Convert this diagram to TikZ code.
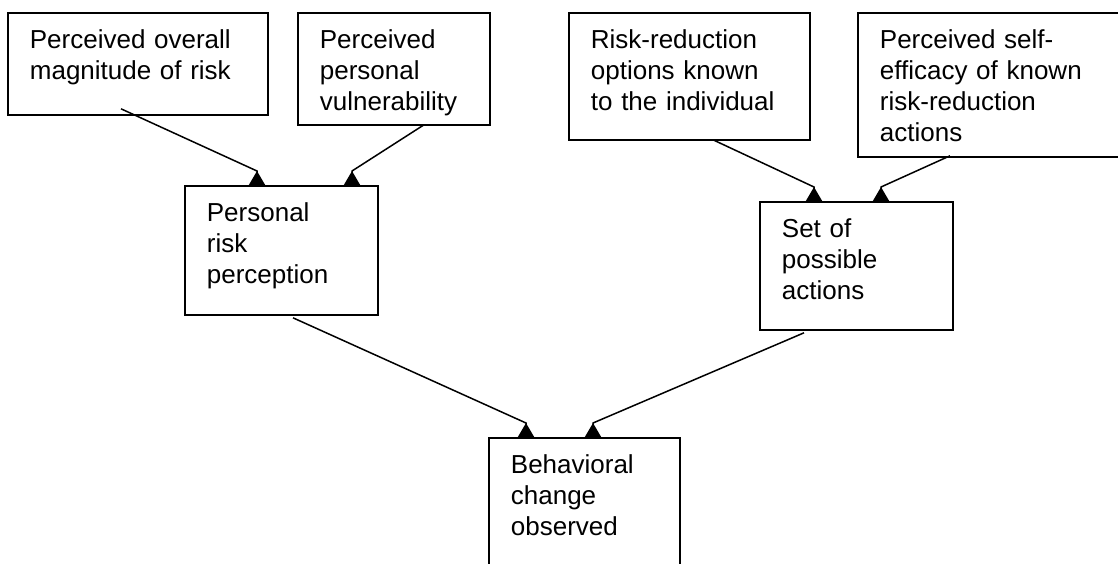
\documentclass[tikz,border=0pt]{standalone}
\usepackage{fontspec}
\setmainfont{Liberation Sans}
\usetikzlibrary{arrows.meta,calc}
\begin{document}
\begin{tikzpicture}[x=0.5pt,y=-0.5pt,
    riskbox/.style={draw, line width=0.9pt, anchor=north west, align=left, inner xsep=11pt, inner ysep=0pt, text height=18pt, font=\fontsize{13pt}{15.5pt}\selectfont},
    link/.style={line width=0.75pt, -{Triangle[reversed,length=7pt,width=8pt]}}]
        \path[use as bounding box, clip] (0,0) rectangle (1118,563);
        \node[riskbox, text width=108pt, text depth=33pt] (overall) at (7,12) {Perceived overall\\magnitude of risk};
        \node[riskbox, text width=74pt, text depth=38pt] (vuln) at (297,12) {Perceived\\personal\\vulnerability};
        \node[riskbox, text width=74.5pt, text depth=46.5pt] (perc) at (184,185) {Personal\\risk\\perception};
        \node[riskbox, text width=98.5pt, text depth=45.5pt] (options) at (568,12) {Risk-reduction\\options known\\to the individual};
        \node[riskbox, text width=113pt, text depth=54pt] (efficacy) at (857,12) {Perceived self-\\efficacy of known\\risk-reduction\\actions};
        \node[riskbox, text width=74.5pt, text depth=46pt] (actions) at (759,201) {Set of\\possible\\actions};
        \node[riskbox, text width=73.5pt, text depth=53.5pt] (behav) at (488,437) {Behavioral\\change\\observed};
        \draw[link] ($(overall.south west)+(114,-7)$) -- ($(perc.north west)+(73,-14)$) -- ($(perc.north west)+(73,0)$);
        \draw[link] ($(vuln.south west)+(127,-1)$) -- ($(perc.north west)+(168,-14)$) -- ($(perc.north west)+(168,0)$);
        \draw[link] ($(options.south west)+(145,-1)$) -- ($(actions.north west)+(55,-14)$) -- ($(actions.north west)+(55,0)$);
        \draw[link] ($(efficacy.south west)+(93,-2)$) -- ($(actions.north west)+(122,-14)$) -- ($(actions.north west)+(122,0)$);
        \draw[link] ($(perc.south west)+(109,2)$) -- ($(behav.north west)+(38,-14)$) -- ($(behav.north west)+(38,0)$);
        \draw[link] ($(actions.south west)+(45,2)$) -- ($(behav.north west)+(105,-14)$) -- ($(behav.north west)+(105,0)$);
    \end{tikzpicture}
\end{document}
